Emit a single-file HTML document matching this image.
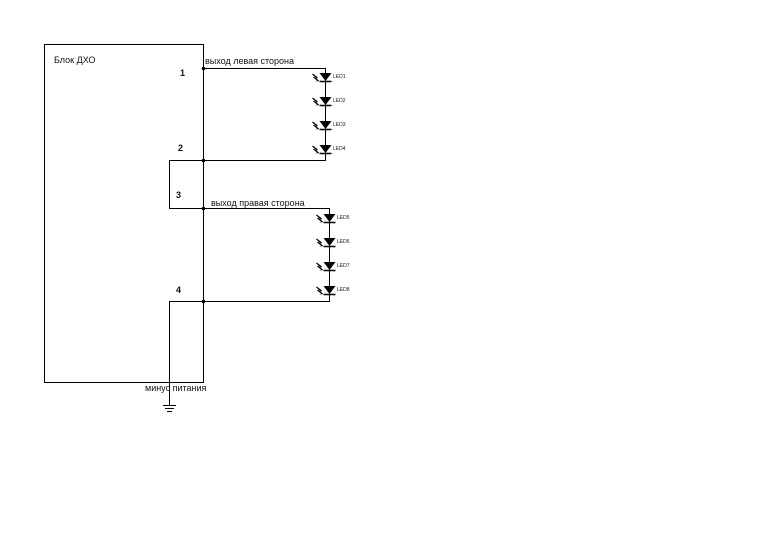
<!DOCTYPE html>
<html><head><meta charset="utf-8"><style>
body{margin:0;background:#fff;width:772px;height:546px;overflow:hidden}
svg{display:block}
text{font-family:"Liberation Sans",sans-serif;fill:#111}
</style></head><body>
<svg width="772" height="546" viewBox="0 0 772 546" xmlns="http://www.w3.org/2000/svg">
<defs>
<g id="led">
<path d="M-6,-4 L6,-4 L0,4 Z" fill="#000"/>
<line x1="-6" y1="4.5" x2="6" y2="4.5" stroke="#000" stroke-width="1.5"/>
<g stroke="#000" stroke-width="1.2" fill="none">
<line x1="-13" y1="-3" x2="-8" y2="1"/>
<line x1="-12" y1="0" x2="-7" y2="4"/>
</g>
<path d="M-8,1 L-9.5,-1 L-10,1.5 Z M-7,4 L-8.5,2 L-9,4.5 Z" fill="#000"/>
</g>
</defs>
<g stroke="#000" stroke-width="1" fill="none">
<rect x="44.5" y="44.5" width="159" height="338"/>
<polyline points="203.5,68.5 325.5,68.5 325.5,160.5 169.5,160.5 169.5,208.5 329.5,208.5 329.5,301.5 169.5,301.5 169.5,405"/>
<line x1="163" y1="405.5" x2="176" y2="405.5"/>
<line x1="165" y1="408.5" x2="174" y2="408.5"/>
<line x1="167" y1="411.5" x2="172" y2="411.5"/>
</g>
<g fill="#000">
<circle cx="203.5" cy="68.5" r="1.8"/><circle cx="203.5" cy="160.5" r="1.8"/>
<circle cx="203.5" cy="208.5" r="1.8"/><circle cx="203.5" cy="301.5" r="1.8"/>
</g>
<use href="#led" x="325.5" y="77"/>
<use href="#led" x="325.5" y="101"/>
<use href="#led" x="325.5" y="125"/>
<use href="#led" x="325.5" y="149"/>
<use href="#led" x="329.5" y="218"/>
<use href="#led" x="329.5" y="242"/>
<use href="#led" x="329.5" y="266"/>
<use href="#led" x="329.5" y="290"/>
<g font-size="5">
<text x="333" y="78">LED1</text><text x="333" y="102">LED2</text>
<text x="333" y="126">LED3</text><text x="333" y="150">LED4</text>
<text x="337" y="219">LED5</text><text x="337" y="243">LED6</text>
<text x="337" y="267">LED7</text><text x="337" y="291">LED8</text>
</g>
<g font-size="9">
<text x="54" y="63">Блок ДХО</text>
<text x="180" y="76" font-weight="bold">1</text>
<text x="178" y="151" font-weight="bold">2</text>
<text x="176" y="198" font-weight="bold">3</text>
<text x="176" y="293" font-weight="bold">4</text>
<text x="205" y="64">выход левая сторона</text>
<text x="211" y="206">выход правая сторона</text>
<text x="145" y="391">минус питания</text>
</g>
</svg>
</body></html>
